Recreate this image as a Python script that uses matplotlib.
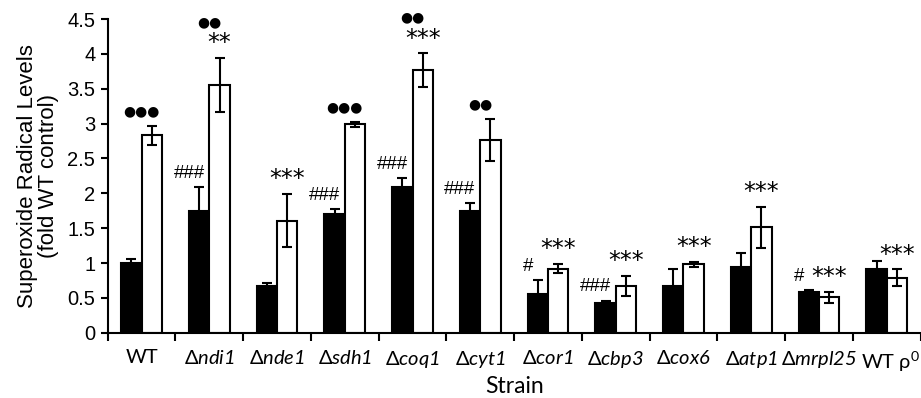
import numpy as np
import matplotlib
matplotlib.use("Agg")
import matplotlib.pyplot as plt
from matplotlib.ticker import FixedLocator, NullFormatter
from matplotlib.transforms import ScaledTranslation

plt.rcParams['mathtext.fontset'] = 'custom'
plt.rcParams['mathtext.rm'] = 'Lato:italic'
plt.rcParams['mathtext.it'] = 'Lato:italic'
plt.rcParams['mathtext.sf'] = 'Lato'

# strain names (gene deletions) and measured values
strains = ['WT', 'ndi1', 'nde1', 'sdh1', 'coq1', 'cyt1', 'cor1', 'cbp3',
           'cox6', 'atp1', 'mrpl25', 'WT rho0']
black_vals = [1.00, 1.74, 0.67, 1.71, 2.09, 1.74, 0.55, 0.42, 0.67, 0.95, 0.58, 0.92]
black_err = [0.06, 0.35, 0.05, 0.06, 0.13, 0.12, 0.20, 0.04, 0.24, 0.20, 0.03, 0.11]
white_vals = [2.83, 3.55, 1.61, 2.99, 3.77, 2.77, 0.92, 0.67, 0.98, 1.51, 0.51, 0.79]
white_err = [0.13, 0.39, 0.38, 0.04, 0.24, 0.30, 0.07, 0.15, 0.04, 0.30, 0.08, 0.12]
hash_marks = ['', '###', '', '###', '###', '###', '#', '###', '', '', '#', '']
star_marks = ['', '**', '***', '', '***', '', '***', '***', '***', '***', '***', '***']
dot_marks = ['●●●', '●●', '', '●●●', '●●', '●●', '', '', '', '', '', '']

tick_labels = []
for s in strains:
    if s == 'WT':
        tick_labels.append('WT')
    elif s == 'WT rho0':
        tick_labels.append(r'WT ρ$^{\mathsf{0}}$')
    else:
        tick_labels.append(r'$\mathsf{\Delta}\mathit{' + s + '}$')

fig = plt.figure(figsize=(9.21, 3.98), dpi=100)
ax = fig.add_axes([0.117, 0.164, 0.8825, 0.788])

x = np.arange(len(strains))
w = 0.30
lw = 1.5
ax.bar(x - w/2, black_vals, w, color='black', edgecolor='black', linewidth=lw, zorder=2)
ax.bar(x + w/2, white_vals, w, color='white', edgecolor='black', linewidth=lw, zorder=2)
ax.errorbar(x - w/2, black_vals, yerr=black_err, fmt='none', ecolor='black',
            elinewidth=lw, capsize=3.8, capthick=lw, zorder=3)
ax.errorbar(x + w/2, white_vals, yerr=white_err, fmt='none', ecolor='black',
            elinewidth=lw, capsize=3.8, capthick=lw, zorder=3)

# significance marks
for i in range(len(strains)):
    wtop = white_vals[i] + white_err[i]
    btop = black_vals[i] + black_err[i]
    if hash_marks[i]:
        ax.text(x[i] - w, btop + 0.2, hash_marks[i], ha='center', va='center',
                fontsize=13.5, family='Liberation Sans', clip_on=False)
    ytop = wtop + 0.21
    if star_marks[i]:
        ax.text(x[i] + w/2, ytop, star_marks[i], ha='center', va='center',
                fontsize=17, family='DejaVu Sans', clip_on=False)
        ytop += 0.31
    if dot_marks[i]:
        ax.text(x[i], ytop, dot_marks[i], ha='center', va='center',
                fontsize=10, family='DejaVu Sans', clip_on=False)

ax.set_xlim(-0.5, len(strains) - 0.5)
ax.set_ylim(0, 4.5)
ax.set_yticks(np.arange(0, 4.51, 0.5))
ax.set_yticklabels(['0', '0.5', '1', '1.5', '2', '2.5', '3', '3.5', '4', '4.5'],
                   family='Liberation Sans', fontsize=14.5)
ax.set_xticks(x)
ax.set_xticklabels(tick_labels, family='Lato', fontsize=14.5)
ax.xaxis.set_minor_locator(FixedLocator(np.arange(-0.5, len(strains), 1.0)))
ax.xaxis.set_minor_formatter(NullFormatter())
ax.tick_params(axis='x', which='major', length=0, pad=12)
ax.tick_params(axis='x', which='minor', length=6, width=lw)
ax.tick_params(axis='y', length=5, width=lw, pad=4)
# nudge last label right like the original
last = ax.get_xticklabels()[-1]
last.set_transform(last.get_transform() + ScaledTranslation(2.5/72, 0, fig.dpi_scale_trans))

for side in ['top', 'right']:
    ax.spines[side].set_visible(False)
for side in ['left', 'bottom']:
    ax.spines[side].set_linewidth(lw)

ax.set_ylabel('Superoxide Radical Levels\n(fold WT control)', family='Liberation Sans',
              fontsize=16, linespacing=1.0, labelpad=6)
ax.set_xlabel('Strain', family='Lato', fontsize=16.5, labelpad=2)

fig.savefig('out.png', dpi=100)
